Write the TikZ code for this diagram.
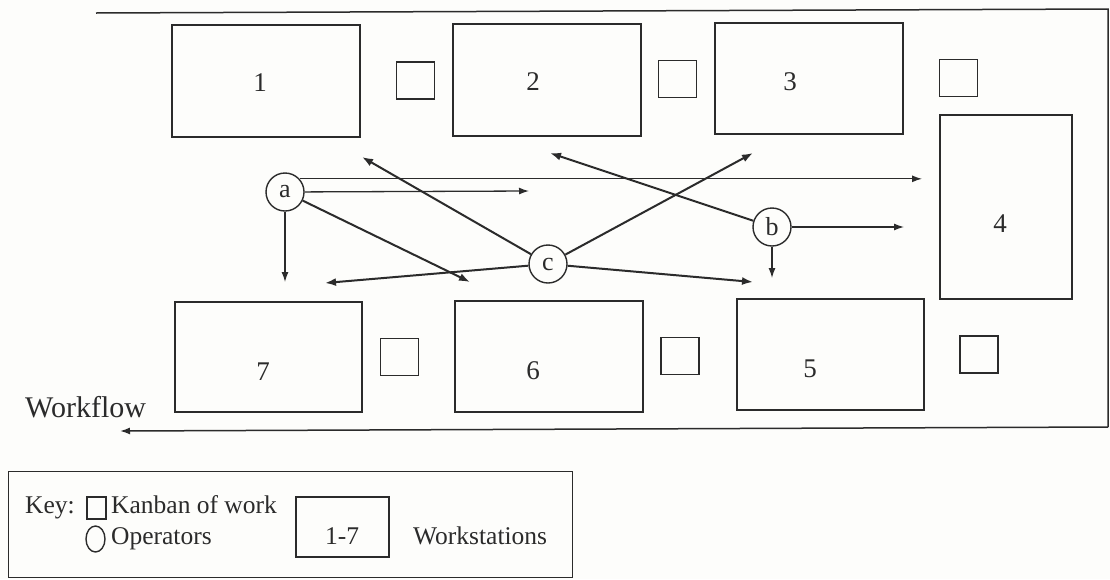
\documentclass[tikz,border=0pt]{standalone}
\usepackage{fontspec}
\setmainfont{Liberation Serif}
\usetikzlibrary{arrows.meta,shapes.geometric}
\definecolor{ink}{HTML}{2B2B2B}
\definecolor{paper}{HTML}{FDFDFB}
\begin{document}
\begin{tikzpicture}[x=1pt,y=-1pt,
  every node/.style={text=ink},
  station/.style={draw=ink, line width=1.4pt, inner sep=0pt},
  num/.style={font=\fontsize{27}{27}\selectfont, inner sep=0pt},
  kanban/.style={draw=ink, line width=1.4pt, inner sep=0pt,
                 minimum width=38pt, minimum height=37pt},
  operator/.style={draw=ink, circle, line width=1.4pt, inner sep=0pt,
                   minimum size=38pt, font=\fontsize{26}{26}\selectfont},
  move/.style={draw=ink, line width=1.3pt, -{Latex[length=10pt,width=7pt]}},
  cross/.style={move, line width=2pt, -{Latex[length=11pt,width=8pt]}},
  keytext/.style={font=\fontsize{25.5}{25.5}\selectfont, inner sep=0pt, anchor=base west},
]
\fill[paper] (0,0) rectangle (1110,579);
\useasboundingbox (0,0) rectangle (1110,579);

% shop floor outline and flow direction
\coordinate (fnw) at (96,13);
\coordinate (fne) at (1108,9);
\coordinate (fse) at (1108,427);
\coordinate (fend) at (120,431);
\draw[ink, line width=1.5pt] (fnw) -- (fne) -- (fse);
\draw[move, line width=1.5pt] (fse) -- (fend);
\node[font=\fontsize{30}{30}\selectfont, inner sep=0pt, anchor=base west] (flow) at (25,417) {Workflow};

% workstations
\node[station, minimum width=188pt, minimum height=112pt] (w1) at (266,81) {};
\node[station, minimum width=188pt, minimum height=112pt] (w2) at (547,80) {};
\node[station, minimum width=188pt, minimum height=111pt] (w3) at (809,78.5) {};
\node[station, minimum width=132pt, minimum height=184pt] (w4) at (1006,207) {};
\node[station, minimum width=187pt, minimum height=111pt] (w5) at (830.5,354.5) {};
\node[station, minimum width=188pt, minimum height=111pt] (w6) at (549,356.5) {};
\node[station, minimum width=187pt, minimum height=110pt] (w7) at (268.5,357) {};
\node[num] (n1) at (260,83) {1};
\node[num] (n2) at (533,82) {2};
\node[num] (n3) at (790,82) {3};
\node[num] (n4) at (1000,224) {4};
\node[num] (n5) at (810,369) {5};
\node[num] (n6) at (533,371) {6};
\node[num] (n7) at (263,372) {7};

% kanban squares
\node[kanban] (k1) at (415.5,80.5) {};
\node[kanban] (k2) at (677.5,79) {};
\node[kanban] (k3) at (958.5,78) {};
\node[kanban] (k5) at (979,354.5) {};
\node[kanban] (k6) at (680,356) {};
\node[kanban] (k7) at (399.5,357) {};

% operators
\node[operator] (a) at (285,192) {a};
\node[operator] (b) at (772,227) {b};
\node[operator] (c) at (548,264) {c};

% movement targets
\coordinate (a4) at (922,175);
\coordinate (a2) at (529,191);
\coordinate (a6) at (470,282);
\coordinate (a7) at (285,282);
\coordinate (c1) at (362,157);
\coordinate (c3) at (753,153);
\coordinate (c7) at (325,283);
\coordinate (c5) at (753,282);
\coordinate (b2) at (550,153);
\coordinate (b4) at (904,227);
\coordinate (b5) at (772,278);

% operator a
\draw[move] (a.42) -- (a4 |- a.42);
\draw[move] (a) -- (a2);
\draw[cross] (a) -- (a6);
\draw[move] (a) -- (a7);
% operator c
\draw[cross] (c) -- (c1);
\draw[cross] (c) -- (c3);
\draw[cross] (c) -- (c7);
\draw[cross] (c) -- (c5);
% operator b
\draw[cross] (b) -- (b2);
\draw[move] (b) -- (b4);
\draw[move] (b) -- (b5);

% key
\node[draw=ink, line width=1.4pt, inner sep=0pt, anchor=north west,
      minimum width=564pt, minimum height=106pt] (key) at (8,471) {};
\node[keytext] (keylbl) at (25,513) {Key:};
\node[draw=ink, line width=1.4pt, inner sep=0pt,
      minimum width=19pt, minimum height=22pt] (keyk) at (96.5,508) {};
\node[keytext] (keyktxt) at (111,513) {Kanban of work};
\node[draw=ink, ellipse, line width=1.4pt, inner sep=0pt,
      minimum width=19pt, minimum height=26pt] (keyop) at (95.5,539) {};
\node[keytext] (keyoptxt) at (111,544) {Operators};
\node[station, minimum width=93pt, minimum height=60pt] (keyws) at (342.5,527) {};
\node[keytext, anchor=base] (keywsnum) at (342,544) {1-7};
\node[keytext] (keywstxt) at (413,544) {Workstations};
\end{tikzpicture}
\end{document}
